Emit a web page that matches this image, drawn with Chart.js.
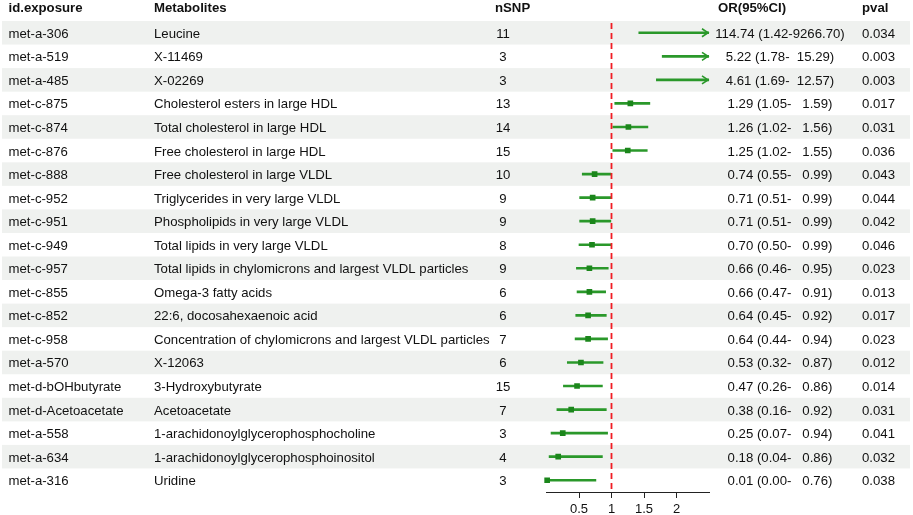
<!DOCTYPE html>
<html>
<head>
<meta charset="utf-8">
<script src="https://cdn.jsdelivr.net/npm/chart.js@4/dist/chart.umd.min.js"></script>
<style>
  html, body { margin:0; padding:0; background:#fff; }
  #wrap { width:913px; height:515px; }
</style>
</head>
<body>
<div id="wrap"><canvas id="forest" width="913" height="515"></canvas></div>
<script>
/* forest plot data */
const ids = ['met-a-306','met-a-519','met-a-485','met-c-875','met-c-874','met-c-876','met-c-888','met-c-952',
  'met-c-951','met-c-949','met-c-957','met-c-855','met-c-852','met-c-958','met-a-570','met-d-bOHbutyrate',
  'met-d-Acetoacetate','met-a-558','met-a-634','met-a-316'];
const metabolites = ['Leucine','X-11469','X-02269','Cholesterol esters in large HDL','Total cholesterol in large HDL',
  'Free cholesterol in large HDL','Free cholesterol in large VLDL','Triglycerides in very large VLDL',
  'Phospholipids in very large VLDL','Total lipids in very large VLDL',
  'Total lipids in chylomicrons and largest VLDL particles','Omega-3 fatty acids','22:6, docosahexaenoic acid',
  'Concentration of chylomicrons and largest VLDL particles','X-12063','3-Hydroxybutyrate','Acetoacetate',
  '1-arachidonoylglycerophosphocholine','1-arachidonoylglycerophosphoinositol','Uridine'];
const nsnp = [11,3,3,13,14,15,10,9,9,8,9,6,6,7,6,15,7,3,4,3];
const orVal = [114.74,5.22,4.61,1.29,1.26,1.25,0.74,0.71,0.71,0.70,0.66,0.66,0.64,0.64,0.53,0.47,0.38,0.25,0.18,0.01];
const ciLow = [1.42,1.78,1.69,1.05,1.02,1.02,0.55,0.51,0.51,0.50,0.46,0.47,0.45,0.44,0.32,0.26,0.16,0.07,0.04,0.00];
const ciHigh = [9266.70,15.29,12.57,1.59,1.56,1.55,0.99,0.99,0.99,0.99,0.95,0.91,0.92,0.94,0.87,0.86,0.92,0.94,0.86,0.76];
const pval = [0.034,0.003,0.003,0.017,0.031,0.036,0.043,0.044,0.042,0.046,0.023,0.013,0.017,0.023,0.012,0.014,0.031,0.041,0.032,0.038];
const xTicks = [0.5, 1, 1.5, 2];
const xMin = 0, xMax = 2.5;

const FONT = '"Liberation Sans", Arial, sans-serif';

// stripes behind rows, dashed ref line, arrows and the table text
const tableBg = {
  id: 'tableBg',
  beforeDraw(chart) {
    const {ctx, scales:{y}} = chart;
    const h = y.getPixelForValue(1) - y.getPixelForValue(0);
    ctx.save();
    ctx.fillStyle = '#eff1ef';
    ids.forEach((d, i) => {
      if (i % 2 === 0) {
        const cy = y.getPixelForValue(i);
        ctx.fillRect(2, cy - h/2, 908, h);
      }
    });
    ctx.restore();
  },
  afterDatasetsDraw(chart) {
    const {ctx, chartArea, scales:{x, y}} = chart;
    // reference line at OR = 1
    const px = x.getPixelForValue(1);
    ctx.save();
    ctx.strokeStyle = '#f01c24';
    ctx.lineWidth = 1.8;
    ctx.setLineDash([6, 4]);
    ctx.beginPath();
    ctx.moveTo(px, chartArea.top + 2);
    ctx.lineTo(px, chartArea.bottom);
    ctx.stroke();
    ctx.setLineDash([]);
    // arrow heads for CIs beyond the axis
    ctx.strokeStyle = '#2a982a';
    ctx.lineWidth = 1.6;
    ciHigh.forEach((hi, i) => {
      if (hi > xMax) {
        const ax = x.getPixelForValue(xMax) - 1;
        const ay = y.getPixelForValue(i);
        ctx.beginPath();
        ctx.moveTo(ax - 6, ay - 4);
        ctx.lineTo(ax, ay);
        ctx.lineTo(ax - 6, ay + 4);
        ctx.stroke();
      }
    });
    ctx.restore();
  },
  afterDraw(chart) {
    const {ctx, scales:{y}} = chart;
    ctx.save();
    ctx.fillStyle = '#111';
    ctx.textBaseline = 'alphabetic';
    // header
    ctx.font = 'bold 13.2px ' + FONT;
    ctx.textAlign = 'left';
    const hy = 12;
    ctx.fillText('id.exposure', 8.5, hy);
    ctx.fillText('Metabolites', 154, hy);
    ctx.fillText('nSNP', 495, hy);
    ctx.fillText('OR(95%CI)', 718, hy);
    ctx.fillText('pval', 862, hy);
    // rows
    ctx.font = '13.2px ' + FONT;
    ids.forEach((d, i) => {
      const by = y.getPixelForValue(i) + 5;
      ctx.textAlign = 'left';
      ctx.fillText(d, 8.5, by);
      ctx.fillText(metabolites[i], 154, by);
      ctx.fillText(pval[i].toFixed(3), 862, by);
      ctx.textAlign = 'center';
      ctx.fillText(String(nsnp[i]), 503, by);
      const txt = orVal[i].toFixed(2) + ' (' + ciLow[i].toFixed(2) + '-' + ciHigh[i].toFixed(2).padStart(7, ' ') + ')';
      ctx.fillText(txt, 780, by);
    });
    ctx.restore();
  }
};

new Chart(document.getElementById('forest'), {
  type: 'bar',
  data: {
    labels: ids,
    datasets: [
      {
        type: 'bar',
        label: '95% CI',
        data: ciLow.map((lo, i) => [lo, ciHigh[i]]),
        backgroundColor: '#2a982a',
        barThickness: 2,
        borderWidth: 0,
        order: 2
      },
      {
        type: 'scatter',
        label: 'OR',
        data: orVal.map((v, i) => ({x: v, y: ids[i]})),
        pointStyle: 'rect',
        pointRadius: 4,
        pointHoverRadius: 4,
        backgroundColor: '#1b861b',
        borderColor: '#1b861b',
        borderWidth: 0,
        clip: {left: 6, right: 0, top: 0, bottom: 0},
        order: 1
      }
    ]
  },
  options: {
    indexAxis: 'y',
    responsive: false,
    animation: false,
    devicePixelRatio: 1,
    layout: { padding: { left: 546.5, right: 204, top: 21, bottom: 0 } },
    plugins: { legend: { display: false }, tooltip: { enabled: false } },
    scales: {
      y: {
        type: 'category',
        labels: ids,
        offset: true,
        display: false
      },
      x: {
        type: 'linear',
        min: xMin,
        max: xMax,
        afterBuildTicks(scale) { scale.ticks = xTicks.map(v => ({value: v})); },
        afterFit(scale) { scale.height = 23; },
        grid: { drawOnChartArea: false, tickLength: 6, color: '#222' },
        border: { display: true, color: '#222', width: 1 },
        ticks: {
          padding: 5,
          color: '#111',
          font: { family: FONT, size: 13, lineHeight: 1 },
          callback: v => String(v)
        }
      }
    }
  },
  plugins: [tableBg]
});
</script>
</body>
</html>
